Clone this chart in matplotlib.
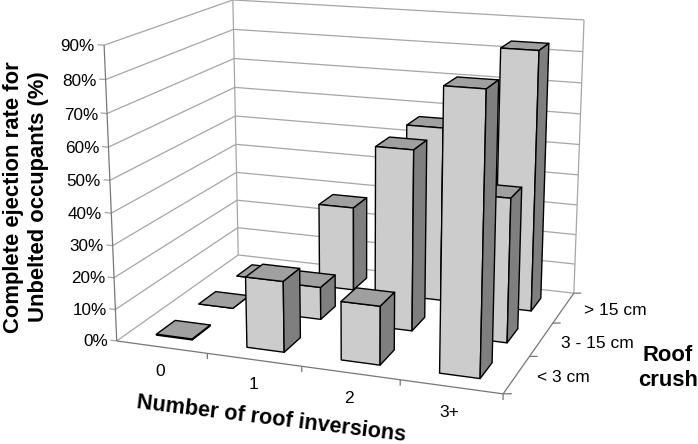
import numpy as np
import matplotlib
matplotlib.use('Agg')
import matplotlib.pyplot as plt
from mpl_toolkits.mplot3d import Axes3D, proj3d
from mpl_toolkits.mplot3d.art3d import Line3DCollection

plt.rcParams['font.family'] = ['Liberation Sans', 'DejaVu Sans']

# data
inversions = ['0', '1', '2', '3+']
crush = ['< 3 cm', '3 - 15 cm', '> 15 cm']
small_crush = [0.3, 22, 18, 83.5]
mid_crush = [0, 10.5, 57, 45]
big_crush = [0, 28, 57, 83.5]
z_ticks = [0, 10, 20, 30, 40, 50, 60, 70, 80, 90]

W, H = 698, 444

# camera: box corners (data) and where they land in the picture (pixels)
box = [(0, 0, 0), (0, 3, 0), (4, 0, 0), (4, 3, 0), (0, 0, 90), (0, 3, 90), (4, 3, 90)]
pix = [(117, 341), (238, 255), (503, 394), (574, 293), (104, 45), (233, 0), (584, 20)]

# where the tick labels sit along their axes
inv_label_x = [0.76, 1.73, 2.69, 3.65]
crush_label_x = [4.46, 4.58, 4.56]


def fit_camera(box, pix):
	A, b = [], []
	for (x, y, z), (u, v) in zip(box, pix):
		A.append([x, y, z, 1, 0, 0, 0, 0, -u*x, -u*y, -u*z])
		b.append(u)
		A.append([0, 0, 0, 0, x, y, z, 1, -v*x, -v*y, -v*z])
		b.append(v)
	p = np.linalg.lstsq(np.array(A, float), np.array(b, float), rcond=None)[0]
	return np.array([p[:4], p[4:8], [0.3, -0.5, 0.01, 1.0], [p[8], p[9], p[10], 1.0]])


def add_lines(segs, color):
	ax.add_collection3d(Line3DCollection(segs, colors=color, linewidths=0.9, zorder=1), autolim=False)


def label(x, y, z, s, **kw):
	# 3d point -> picture position, text stays plain 2d
	u, v, _ = proj3d.proj_transform(x, y, z, M)
	fig.text(u/W, 1-v/H, s, va='center', **kw)


fig = plt.figure(figsize=(W/100, H/100), dpi=100)
ax = fig.add_axes([0, (H-W)/2/H, 1, W/H], projection='3d', computed_zorder=False)
M = fit_camera(box, pix)
ax.get_proj = lambda: M
ax.set_xticks([])
ax.set_yticks([])
ax.set_zticks([])
ax.set_axis_off()
ax.viewLim.intervalx = (0, W)
ax.viewLim.intervaly = (H+(W-H)/2, -(W-H)/2)

grid = '#a6a6a6'
dark = '#777777'
# walls
wall = []
for z in z_ticks:
	wall.append([(0, 0, z), (0, 3, z)])
	wall.append([(0, 3, z), (4, 3, z)])
	wall.append([(0, 0, z), (-0.07, 0, z)])
	label(-0.1, 0, z-0.7, '%d%%' % z, ha='right', fontsize=12.3)
wall.append([(0, 3, 0), (0, 3, 90)])
wall.append([(4, 3, 0), (4, 3, 90)])
add_lines(wall, grid)
# floor edges + ticks
edge = [[(0, 0, 0), (0, 0, 90)], [(0, 0, 0), (4, 0, 0)], [(4, 0, 0), (4, 3, 0)]]
for i in range(1, 5):
	edge.append([(i, 0, 0), (i, 0, -1.8)])
for j in range(0, 4):
	edge.append([(4, j, 0), (4.075, j+0.03, 0)])
add_lines(edge, dark)

for i, name in enumerate(inversions):
	label(inv_label_x[i], -0.55, -0.5, name, ha='center', fontsize=12.5)
for j, name in enumerate(crush):
	label(crush_label_x[j], j+0.45, 1.5, name, ha='center', fontsize=12.5)

# bars, back row first
wx, wy = 0.4, 0.43
none = (0, 0, 0, 0)
colors = [none, '#a0a0a0', '#cccccc', none, none, '#7f7f7f']
edges = [none, 'k', 'k', none, none, 'k']
order = 2
for j, row in reversed(list(enumerate([small_crush, mid_crush, big_crush]))):
	for i, v in enumerate(row):
		ax.bar3d(i+0.5-wx/2, j+0.5-wy/2, 0, wx, wy, v, color=colors, edgecolor=edges,
			linewidth=1.0, shade=False, zorder=order)
		order += 1

fig.text(26/W, 1-197/H, 'Complete ejection rate for\nUnbelted occupants (%)', rotation=90,
	ha='center', va='center', ma='center', fontsize=15.8, fontweight='bold')
fig.text(271/W, 1-419/H, 'Number of roof inversions', rotation=-7, rotation_mode='anchor',
	ha='center', va='center', fontsize=15.6, fontweight='bold')
fig.text(668/W, 1-368/H, 'Roof\ncrush', ha='center', va='center', ma='center',
	fontsize=15.8, fontweight='bold', linespacing=1.3)

fig.savefig('out.png', dpi=100)
